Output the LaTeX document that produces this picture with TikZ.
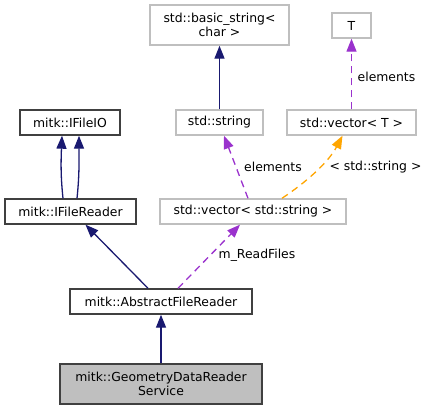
\documentclass[tikz,border=0pt]{standalone}
\usepackage{fontspec}
\setmainfont{DejaVu Sans}
\usepackage{xcolor}
\usepackage{tikz}
\usetikzlibrary{arrows.meta}
\definecolor{navyline}{HTML}{191970}
\definecolor{orchidline}{HTML}{9A32CD}
\definecolor{orangeline}{HTML}{FFA500}
\definecolor{greyborder}{HTML}{BFBFBF}
\definecolor{darkborder}{HTML}{404040}
\definecolor{greyfill}{HTML}{BFBFBF}

\begin{document}
\begin{tikzpicture}[x=1pt,y=-1pt,
		every node/.style={font=\fontsize{12.4}{14}\selectfont,inner sep=0pt,align=center},
		box/.style={draw=darkborder,line width=1.4pt,fill=white},
		gbox/.style={draw=greyborder,line width=1.4pt,fill=white},
		cls/.style={draw=darkborder,line width=1.4pt,fill=greyfill},
		inh/.style={draw=navyline,line width=1.3pt,-{Triangle[length=13pt,width=10pt]}},
		usage/.style={draw=orchidline,line width=1.3pt,dash pattern=on 7pt off 5pt,-{Triangle[length=13pt,width=10pt]}},
		tmpl/.style={draw=orangeline,line width=1.3pt,dash pattern=on 7pt off 5pt,-{Triangle[length=13pt,width=10pt]}},
		lbl/.style={fill=none}]
						\useasboundingbox (0,0) rectangle (429,411);
						
						\node[gbox,minimum width=139pt,minimum height=40pt] (bstr) at (219.5,25) {std::basic\_string<\\char >};
						\node[gbox,minimum width=39pt,minimum height=25pt] (tpar) at (351.5,25.5) {T};
						\node[box,minimum width=100pt,minimum height=25pt] (ifio) at (70,122.5) {mitk::IFileIO};
						\node[gbox,minimum width=87pt,minimum height=25pt] (str) at (219.5,122.5) {std::string};
						\node[gbox,minimum width=129pt,minimum height=25pt] (vect) at (351.5,122.5) {std::vector< T >};
						\node[box,minimum width=131pt,minimum height=25pt] (ifr) at (70.5,211.5) {mitk::IFileReader};
						\node[gbox,minimum width=186pt,minimum height=25pt] (vstr) at (253,211.5) {std::vector< std::string >};
						\node[box,minimum width=182pt,minimum height=25pt] (afr) at (161,301.5) {mitk::AbstractFileReader};
						\node[cls,minimum width=202pt,minimum height=40pt] (gdrs) at (161,384) {mitk::GeometryDataReader\\Service};
						
						\draw[inh] (str.north) -- (bstr.south);
						\draw[usage] (vect.north) -- (tpar.south);
						\draw[inh] ([xshift=-7.5pt]ifr.north) .. controls (60.5,175) and (61,160) .. ([xshift=-8pt]ifio.south);
						\draw[inh] ([xshift=6.5pt]ifr.north) .. controls (79.5,175) and (79,160) .. ([xshift=9pt]ifio.south);
						\draw[usage] ([xshift=-5pt]vstr.north) -- ([xshift=4.5pt]str.south);
						\draw[tmpl] ([xshift=29pt]vstr.north) .. controls (305,183) and (328,163) .. ([xshift=-9pt]vect.south);
						\draw[inh] ([xshift=-13pt]afr.north) -- ([xshift=15pt]ifr.south);
						\draw[usage] ([xshift=17pt]afr.north) -- ([xshift=-13pt]vstr.south);
						\draw[inh] (gdrs.north) -- (afr.south);
						
						\node[lbl] (lel1) at (386.5,77) {elements};
						\node[lbl] (lel2) at (273,167) {elements};
						\node[lbl] (ltmp) at (375.5,167) {< std::string >};
						\node[lbl] (lrd) at (257,255.5) {m\_ReadFiles};
					\end{tikzpicture}
\end{document}
